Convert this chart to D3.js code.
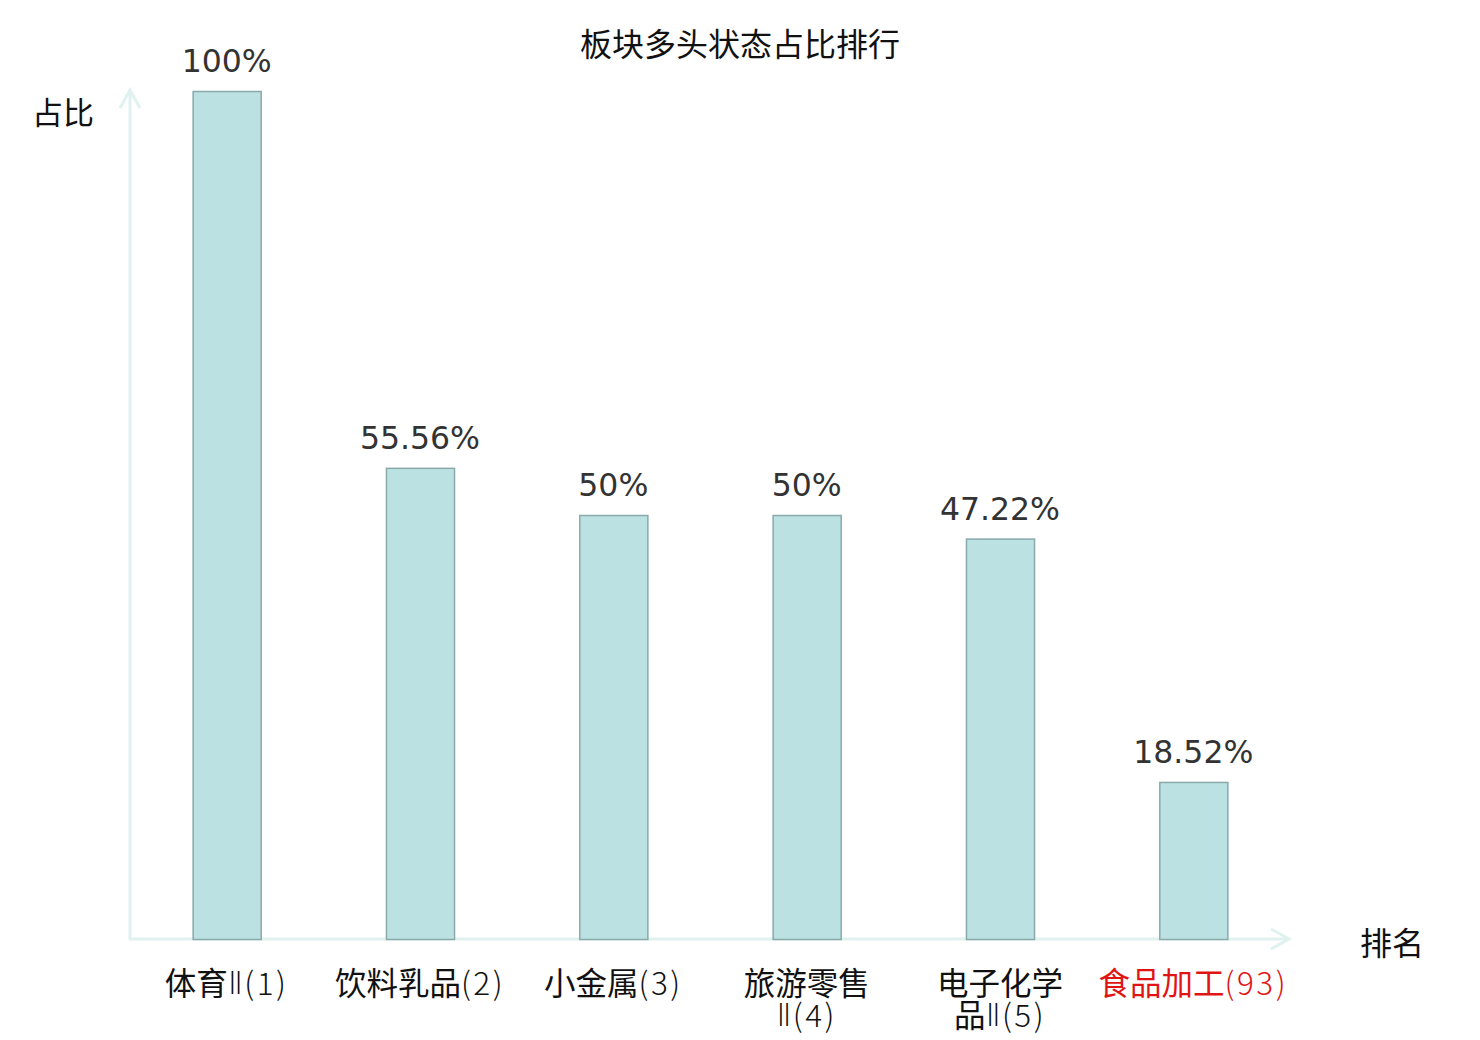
<!DOCTYPE html>
<html><head><meta charset="utf-8">
<script src="https://cdn.jsdelivr.net/npm/d3@7/dist/d3.min.js"></script>
<style>html,body{margin:0;padding:0;background:#fff;}</style>
</head><body>
<svg id="chart" width="1480" height="1040"></svg>
<script>
const categories = ["体育Ⅱ(1)", "饮料乳品(2)", "小金属(3)", "旅游零售\nⅡ(4)", "电子化学\n品Ⅱ(5)", "食品加工(93)"];
const values = [100, 55.56, 50, 50, 47.22, 18.52];
const valueLabels = ["100%", "55.56%", "50%", "50%", "47.22%", "18.52%"];
const highlight = [false, false, false, false, false, true];
const title = "板块多头状态占比排行";
const yName = "占比";
const xName = "排名";

const svg = d3.select("#chart");
const cjk = "'Noto Sans CJK SC','DejaVu Sans',sans-serif";
const x = d3.scaleBand().domain(categories).range([130, 1290]).paddingInner(0.648).paddingOuter(0.324);
const y = d3.scaleLinear().domain([0, 100]).range([939, 91]);

svg.append("text").attr("x", 740).attr("y", 42).attr("text-anchor", "middle")
  .attr("dominant-baseline", "central").style("font-family", cjk).style("font-size", "32px")
  .attr("fill", "#111").text(title);

const axisColor = "#dff2ef";
svg.append("line").attr("x1", 130).attr("x2", 130).attr("y1", 939).attr("y2", 90)
  .attr("stroke", axisColor).attr("stroke-width", 3);
svg.append("path").attr("d", "M120,108 L130,90 L140,108").attr("fill", "none")
  .attr("stroke", axisColor).attr("stroke-width", 3);
svg.append("line").attr("x1", 129).attr("x2", 1289).attr("y1", 939).attr("y2", 939)
  .attr("stroke", axisColor).attr("stroke-width", 3);
svg.append("path").attr("d", "M1271,929 L1289,939 L1271,949").attr("fill", "none")
  .attr("stroke", axisColor).attr("stroke-width", 3);

svg.append("text").attr("x", 63).attr("y", 110).attr("text-anchor", "middle")
  .attr("dominant-baseline", "central").style("font-family", cjk).style("font-size", "31px")
  .attr("fill", "#111").text(yName);
svg.append("text").attr("x", 1392).attr("y", 941).attr("text-anchor", "middle")
  .attr("dominant-baseline", "central").style("font-family", cjk).style("font-size", "32px")
  .attr("fill", "#111").text(xName);

const g = svg.append("g");
g.selectAll("rect").data(values).join("rect")
  .attr("x", (d, i) => x(categories[i]) + 0.5)
  .attr("y", d => y(d) + 0.5)
  .attr("width", x.bandwidth())
  .attr("height", d => y(0) - y(d))
  .attr("fill", "#bce1e3").attr("stroke", "#8aa9ab").attr("stroke-width", 1.5);

g.selectAll("text.val").data(values).join("text").attr("class", "val")
  .attr("x", (d, i) => x(categories[i]) + x.bandwidth() / 2)
  .attr("y", d => y(d) - 19)
  .attr("text-anchor", "middle")
  .style("font-family", "'DejaVu Sans',sans-serif").style("font-size", "31.5px")
  .attr("fill", "#333").text((d, i) => valueLabels[i]);

const kindOf = ch => /[\u4e00-\u9fff]/.test(ch) ? "cjk" : (ch === "Ⅱ" ? "roman" : "latin");
categories.forEach((c, i) => {
  const t = svg.append("text").attr("text-anchor", "middle")
    .style("font-family", cjk).style("font-size", "31.5px")
    .attr("fill", highlight[i] ? "#e11414" : "#111");
  c.split("\n").forEach((line, j) => {
    const runs = [];
    for (const ch of line) {
      const k = kindOf(ch);
      if (runs.length && runs[runs.length - 1].k === k) runs[runs.length - 1].s += ch;
      else runs.push({k, s: ch});
    }
    runs.forEach((r, ri) => {
      const ts = t.append("tspan").text(r.s);
      if (ri === 0) ts.attr("x", x(c) + x.bandwidth() / 2).attr("y", 981 + j * 32);
      ts.attr("dominant-baseline", "central");
      if (r.k === "latin") ts.style("font-weight", 300).style("letter-spacing", "2.5px");
      if (r.k === "roman") ts.style("font-family", "'Noto Sans','DejaVu Sans',sans-serif").style("font-weight", 300).style("letter-spacing", "1px");
    });
  });
});
</script>
</body></html>
